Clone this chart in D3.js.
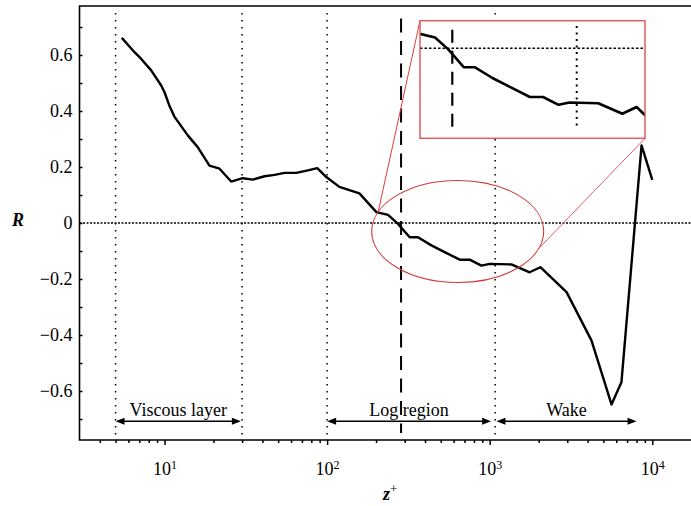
<!DOCTYPE html>
<html><head><meta charset="utf-8">
<script src="https://cdn.jsdelivr.net/npm/d3@7"></script>
<style>
body{margin:0;background:#fff}
svg{display:block}
</style>
</head><body>
<svg id="chart" width="691" height="506"></svg>
<script>
// ---- data ----
const zPlus = [5.46, 6.54, 7.19, 8.28, 9.54, 10.0, 10.7, 11.5, 13.9, 16.0, 18.9, 21.8, 25.7, 30.3, 34.9, 41.2, 47.5, 54.7, 64.6, 76.2, 87.0, 98.9, 119, 158, 201, 237, 273, 322, 362, 438, 528, 654, 753, 889, 1000, 1360, 1760, 2050, 2970, 4230, 4980, 5610, 6460, 8590, 10000];
const rValues = [0.661, 0.610, 0.586, 0.545, 0.491, 0.467, 0.420, 0.380, 0.313, 0.271, 0.205, 0.194, 0.148, 0.160, 0.155, 0.167, 0.172, 0.179, 0.179, 0.188, 0.196, 0.164, 0.129, 0.106, 0.039, 0.029, -0.003, -0.051, -0.051, -0.080, -0.104, -0.131, -0.131, -0.152, -0.146, -0.148, -0.176, -0.158, -0.247, -0.420, -0.551, -0.648, -0.569, 0.277, 0.154];

const yLabelTicks = [-0.6, -0.4, -0.2, 0, 0.2, 0.4, 0.6];
const yMinorTicks = [-0.7, -0.5, -0.3, -0.1, 0.1, 0.3, 0.5, 0.7];
const xMajorTicks = [10, 100, 1000, 10000];
const xMajorExponents = ["1", "2", "3", "4"];
const xMinorTicks = [4,5,6,7,8,9, 20,30,40,50,60,70,80,90, 200,300,400,500,600,700,800,900, 2000,3000,4000,5000,6000,7000,8000,9000];

const regionBoundaries = [5, 30, 100, 1080];   // dotted verticals
const logLayerEdge = 285;                      // dashed vertical
const regionNames = ["Viscous layer", "Log region", "Wake"];
const regionStart = [5, 100, 1100];
const regionEnd = [29.5, 1020, 8000];
const regionArrowR = -0.708;

// zoom annotation (data units)
const zoomZoneZ = [188, 2148];
const zoomZoneR = [-0.2125, 0.152];
const insetZ = [201.7, 2243];
const insetR = [-0.242, 0.074];
const insetGuideR = [-0.212, 0.05];

const SERIF = '"Liberation Serif", "Times New Roman", Tinos, Times, "DejaVu Serif", "Noto Serif", serif';

// ---- chart ----
const svg = d3.select("#chart").attr("font-family", SERIF);
const x = d3.scaleLog().domain([3, 17300]).range([79.5, 691]);
const y = d3.scaleLinear().domain([-0.775, 0.775]).range([440, 6]);
const X0 = x.range()[0], X1 = x.range()[1], Y0 = y.range()[0], Y1 = y.range()[1];

// guide lines
svg.append("g").selectAll("line").data(regionBoundaries).join("line")
  .attr("x1", d => x(d)).attr("x2", d => x(d))
  .attr("y1", y(0.75)).attr("y2", Y0)
  .attr("stroke", "#000").attr("stroke-width", 1.5).attr("stroke-dasharray", "1.5,5.5");

svg.append("line").attr("x1", X0).attr("x2", X1).attr("y1", y(0)).attr("y2", y(0))
  .attr("stroke", "#000").attr("stroke-width", 1.5).attr("stroke-dasharray", "2,1.5");

svg.append("line").attr("x1", x(logLayerEdge)).attr("x2", x(logLayerEdge))
  .attr("y1", y(0.73)).attr("y2", y(-0.75))
  .attr("stroke", "#000").attr("stroke-width", 2).attr("stroke-dasharray", "14,8.5");

// data curve
const pts = zPlus.map((z, i) => [z, rValues[i]]);
const line = d3.line().x(d => x(d[0])).y(d => y(d[1]));
svg.append("path").datum(pts).attr("d", line)
  .attr("fill", "none").attr("stroke", "#000").attr("stroke-width", 2.4).attr("stroke-linejoin", "round");

// axes
const yAxis = d3.axisLeft(y)
  .tickValues(yLabelTicks.concat(yMinorTicks))
  .tickSizeInner(-3).tickSizeOuter(0).tickPadding(7)
  .tickFormat(d => yLabelTicks.some(v => Math.abs(v - d) < 1e-9) ? (Math.abs(d) < 1e-9 ? "0" : d3.format(".1f")(d)) : "");
const gy = svg.append("g").attr("transform", `translate(${X0},0)`).call(yAxis);
gy.attr("font-family", SERIF).attr("font-size", 18);
gy.select(".domain").remove();
gy.selectAll(".tick line").attr("stroke-width", 1.5);
gy.selectAll("text").attr("font-family", SERIF).attr("font-size", 18);

const gxMinor = svg.append("g").attr("transform", `translate(0,${Y0})`)
  .call(d3.axisBottom(x).tickValues(xMinorTicks).tickSize(3).tickFormat(""));
gxMinor.select(".domain").remove();
gxMinor.selectAll(".tick line").attr("stroke-width", 1.5);

const gxMajor = svg.append("g").attr("transform", `translate(0,${Y0})`)
  .call(d3.axisBottom(x).tickValues(xMajorTicks).tickSize(5).tickPadding(17).tickFormat(() => "10"));
gxMajor.attr("font-family", SERIF).attr("font-size", 18);
gxMajor.select(".domain").remove();
gxMajor.selectAll(".tick line").attr("stroke-width", 1.5);
gxMajor.selectAll("text").attr("font-family", SERIF).attr("font-size", 18)
  .each(function(d, i) {
    d3.select(this).append("tspan").attr("font-size", 12).attr("dy", "-0.45em").text(xMajorExponents[i]);
  });

// frame
svg.append("path")
  .attr("d", `M${X1},${Y1}H${X0}V${Y0}H${X1}`)
  .attr("fill", "none").attr("stroke", "#000").attr("stroke-width", 1.6);

// axis titles
svg.append("text").attr("x", 18).attr("y", 226).attr("text-anchor", "middle").attr("font-family", SERIF)
  .attr("font-size", 18).attr("font-style", "italic").attr("font-weight", "bold").text("R");
const zt = svg.append("text").attr("x", 383).attr("y", 500).attr("font-family", SERIF)
  .attr("font-size", 18).attr("font-style", "italic").attr("font-weight", "bold").text("z");
zt.append("tspan").attr("font-size", 13).attr("font-style", "normal").attr("font-weight", "normal").attr("dy", "-0.55em").text("+");

// region arrows
const ga = svg.append("g");
regionNames.forEach((name, i) => {
  const xa = x(regionStart[i]), xb = x(regionEnd[i]), ya = y(regionArrowR);
  ga.append("line").attr("x1", xa + 4).attr("x2", xb - 4).attr("y1", ya).attr("y2", ya)
    .attr("stroke", "#000").attr("stroke-width", 1.6);
  ga.append("path").attr("d", `M${xa},${ya}l9,-3.5v7z`).attr("fill", "#000");
  ga.append("path").attr("d", `M${xb},${ya}l-9,-3.5v7z`).attr("fill", "#000");
  ga.append("text").attr("x", x(Math.sqrt(regionStart[i] * regionEnd[i]))).attr("y", ya - 5)
    .attr("text-anchor", "middle").attr("font-family", SERIF).attr("font-size", 18).text(name);
});

// zoom ellipse
const ecx = (x(zoomZoneZ[0]) + x(zoomZoneZ[1])) / 2, ecy = (y(zoomZoneR[0]) + y(zoomZoneR[1])) / 2;
const erx = (x(zoomZoneZ[1]) - x(zoomZoneZ[0])) / 2, ery = (y(zoomZoneR[0]) - y(zoomZoneR[1])) / 2;
svg.append("ellipse").attr("cx", ecx).attr("cy", ecy).attr("rx", erx).attr("ry", ery)
  .attr("fill", "none").attr("stroke", "#d03a3a").attr("stroke-width", 1.1);

// inset
const xi = d3.scaleLog().domain(insetZ).range([420, 645]);
const yi = d3.scaleLinear().domain(insetR).range([138.3, 20.7]);
function ellipsePt(ang) { return [ecx + erx * Math.cos(ang), ecy + ery * Math.sin(ang)]; }
const pA = ellipsePt(Math.PI + 0.39), pB = ellipsePt(0.34);
svg.append("line").attr("x1", xi.range()[0]).attr("y1", yi.range()[1]).attr("x2", pA[0]).attr("y2", pA[1])
  .attr("stroke", "#e23b3b").attr("stroke-width", 1);
svg.append("line").attr("x1", xi.range()[1]).attr("y1", yi.range()[0]).attr("x2", pB[0]).attr("y2", pB[1])
  .attr("stroke", "#e06060").attr("stroke-width", 1);

const ins = svg.append("g");
ins.append("rect").attr("x", 420).attr("y", 20.7).attr("width", 225).attr("height", 117.6)
  .attr("fill", "#fff");
svg.append("clipPath").attr("id", "insetClip").append("rect")
  .attr("x", 420).attr("y", 20.7).attr("width", 225).attr("height", 117.6);
const insc = ins.append("g").attr("clip-path", "url(#insetClip)");
insc.append("line").attr("x1", 420).attr("x2", 643).attr("y1", yi(0)).attr("y2", yi(0))
  .attr("stroke", "#000").attr("stroke-width", 1.5).attr("stroke-dasharray", "2.5,2");
insc.append("line").attr("x1", xi(logLayerEdge)).attr("x2", xi(logLayerEdge))
  .attr("y1", yi(insetGuideR[1])).attr("y2", yi(insetGuideR[0]))
  .attr("stroke", "#000").attr("stroke-width", 2.2).attr("stroke-dasharray", "13,8");
insc.append("line").attr("x1", xi(regionBoundaries[3])).attr("x2", xi(regionBoundaries[3]))
  .attr("y1", yi(insetGuideR[1] + 0.01)).attr("y2", yi(insetGuideR[0] - 0.006))
  .attr("stroke", "#000").attr("stroke-width", 2).attr("stroke-dasharray", "2,4.5");
insc.append("path").datum(pts).attr("d", d3.line().x(d => xi(d[0])).y(d => yi(d[1])))
  .attr("fill", "none").attr("stroke", "#000").attr("stroke-width", 2.6).attr("stroke-linejoin", "round");
ins.append("rect").attr("x", 420).attr("y", 20.7).attr("width", 225).attr("height", 117.6)
  .attr("fill", "none").attr("stroke", "#e35d5d").attr("stroke-width", 1.5);
</script>
</body></html>
